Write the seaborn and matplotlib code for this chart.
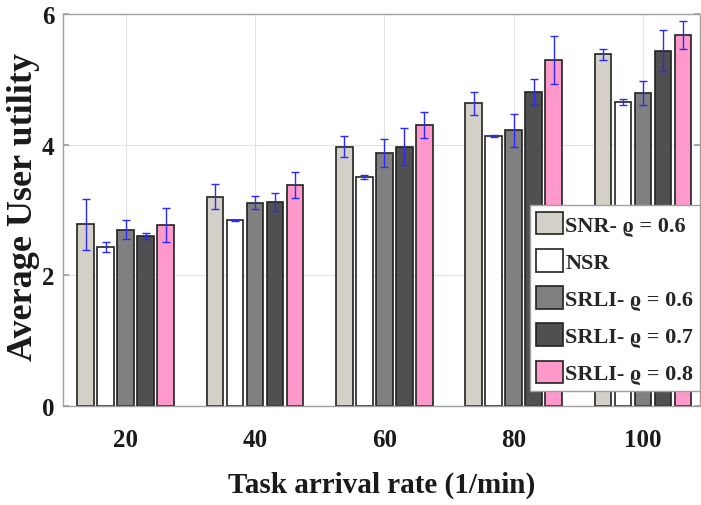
import numpy as np
import pandas as pd
import seaborn as sns
import matplotlib
matplotlib.use("Agg")
import matplotlib.pyplot as plt

# Task arrival rates (1/min)
rates = ["20", "40", "60", "80", "100"]

# Scheme labels
schemes = ["SNR- ϱ = 0.6", "NSR", "SRLI- ϱ = 0.6", "SRLI- ϱ = 0.7", "SRLI- ϱ = 0.8"]

# Average user utility per scheme (one value per arrival rate)
snr_06 = [2.78, 3.20, 3.97, 4.63, 5.38]
nsr = [2.43, 2.84, 3.51, 4.13, 4.65]
srli_06 = [2.70, 3.11, 3.87, 4.22, 4.79]
srli_07 = [2.60, 3.12, 3.97, 4.80, 5.44]
srli_08 = [2.77, 3.38, 4.30, 5.30, 5.68]

# Half-length of the error bars
snr_06_err = [0.39, 0.19, 0.16, 0.18, 0.08]
nsr_err = [0.08, 0.01, 0.03, 0.01, 0.05]
srli_06_err = [0.15, 0.10, 0.21, 0.25, 0.19]
srli_07_err = [0.05, 0.14, 0.28, 0.20, 0.32]
srli_08_err = [0.26, 0.20, 0.20, 0.37, 0.22]

values = [snr_06, nsr, srli_06, srli_07, srli_08]
errors = [snr_06_err, nsr_err, srli_06_err, srli_07_err, srli_08_err]
colors = ["#d4d0c8", "#ffffff", "#808080", "#505050", "#ff99cc"]

df = pd.DataFrame({
    "rate": np.tile(rates, len(schemes)),
    "scheme": np.repeat(schemes, len(rates)),
    "utility": np.concatenate(values),
    "err": np.concatenate(errors),
})

sns.set_theme(style="whitegrid")
plt.rcParams["font.family"] = ["Liberation Serif", "DejaVu Serif"]
plt.rcParams["font.weight"] = "bold"

fig = plt.figure(figsize=(7.01, 5.06), dpi=100)
ax = fig.add_axes([0.0899, 0.1957, 0.9087, 0.7747])

sns.barplot(data=df, x="rate", y="utility", hue="scheme", order=rates,
            hue_order=schemes, palette=colors, saturation=1, width=0.773,
            gap=0.17, edgecolor="#222222", linewidth=1.2, errorbar=None,
            ax=ax, legend=True)

# Error bars placed on the bars seaborn drew
bars = [p for p in ax.patches if p.get_height() > 0 and p.get_width() < 0.5]
bars = bars[:len(df)]
xs = [b.get_x() + b.get_width() / 2 for b in bars]
hs = [b.get_height() for b in bars]
ax.errorbar(xs, hs, yerr=df["err"].values, fmt="none", ecolor="#2a2aff",
            elinewidth=1.0, capsize=3, capthick=1.0, zorder=5)

ax.set_xlim(-0.485, 4.44)
ax.set_ylim(0, 6)
ax.set_yticks([0, 2, 4, 6])
ax.grid(True, color="#e3e3e3", linewidth=0.8)
ax.set_axisbelow(True)
for s in ax.spines.values():
    s.set_color("#a0a0a0")
    s.set_linewidth(1.0)
ax.tick_params(axis="both", direction="in", length=4, color="#a0a0a0",
               labelsize=18)
ax.tick_params(axis="x", pad=16)
ax.tick_params(axis="y", right=True, left=True, pad=6)
for lbl in ax.get_xticklabels() + ax.get_yticklabels():
    lbl.set_fontweight("bold")
    lbl.set_color("#1a1a1a")

ax.set_xlabel("Task arrival rate (1/min)", fontsize=21, fontweight="bold",
              color="#1a1a1a", labelpad=14)
ax.set_ylabel("Average User utility", fontsize=26, fontweight="bold",
              color="#1a1a1a")
ax.yaxis.set_label_coords(-0.036, 0.51)

leg = ax.legend(loc="lower right", bbox_to_anchor=(1.0, 0.038), frameon=True,
                fancybox=False, edgecolor="#a0a0a0", framealpha=1,
                prop={"family": ["Liberation Serif", "DejaVu Serif"],
                      "weight": "bold", "size": 16},
                handlelength=1.2, handleheight=1.2, handletextpad=0.1,
                labelspacing=0.6, borderpad=0.3, borderaxespad=0.0)
leg.get_frame().set_linewidth(1.0)
for h in leg.legend_handles:
    h.set_edgecolor("#222222")
    h.set_linewidth(1.2)

fig.savefig("out.png", dpi=100)
